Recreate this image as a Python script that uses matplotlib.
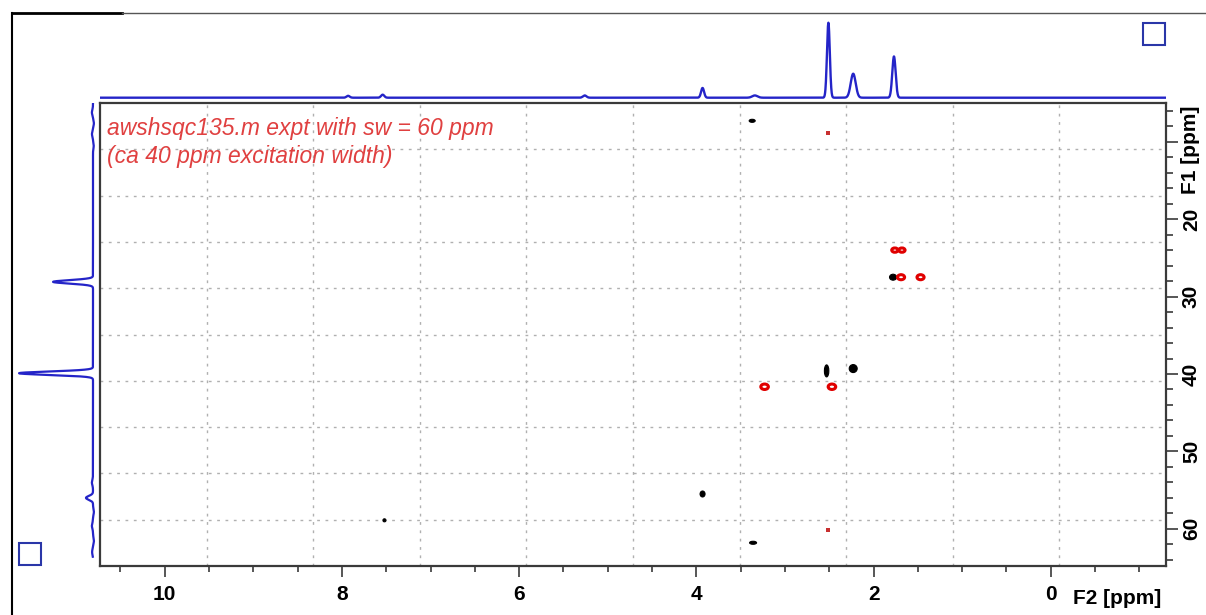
import numpy as np
import matplotlib
matplotlib.use("Agg")
import matplotlib.pyplot as plt
from matplotlib.patches import Ellipse, Rectangle
from matplotlib.lines import Line2D

plt.rcParams['font.family'] = ['Liberation Sans', 'DejaVu Sans']

# ---------------- data ----------------
f2_major_ticks = [10, 8, 6, 4, 2, 0]
f2_tick_labels = ["10", "8", "6", "4", "2", "0"]
f1_major_ticks = [10, 20, 30, 40, 50, 60]
f1_tick_labels = ["", "20", "30", "40", "50", "60"]

# 1H projection (top trace): peak ppm, relative height, gaussian sigma (ppm)
h_ppm = [7.93, 7.54, 5.26, 3.93, 3.34, 2.51, 2.23, 1.77]
h_int = [2.5, 4.0, 3.0, 13.0, 3.0, 100.0, 32.0, 55.0]
h_sig = [0.018, 0.018, 0.02, 0.017, 0.03, 0.016, 0.028, 0.019]

# 13C projection (left trace): peak ppm, relative height, sigma (ppm)
c_ppm = [6.2, 7.6, 9.0, 10.5, 28.1, 39.9, 54.0, 56.0, 57.8, 59.6, 61.5, 63.0]
c_int = [1.5, -1.2, 1.4, -1.0, 54.0, 100.0, 1.5, 9.5, -1.2, 1.5, -1.3, 1.2]
c_sig = [0.35, 0.35, 0.35, 0.35, 0.22, 0.22, 0.35, 0.25, 0.35, 0.35, 0.35, 0.35]

# positive cross peaks (black): F2 ppm, F1 ppm, F2 width, F1 width
pos_f2 = [3.37, 1.78, 2.53, 2.23, 3.93, 7.52, 3.36]
pos_f1 = [7.3, 27.5, 39.6, 39.3, 55.5, 58.9, 61.8]
pos_w2 = [0.068, 0.08, 0.05, 0.09, 0.056, 0.034, 0.079]
pos_w1 = [0.39, 0.77, 1.55, 1.03, 0.77, 0.39, 0.39]

# negative cross peaks (red rings): F2 ppm, F1 ppm, F2 width, F1 width
neg_f2 = [1.76, 1.68, 1.69, 1.47, 3.23, 2.47]
neg_f1 = [24.0, 24.0, 27.5, 27.5, 41.65, 41.65]
neg_w2 = [0.07, 0.07, 0.08, 0.08, 0.085, 0.085]
neg_w1 = [0.55, 0.55, 0.65, 0.65, 0.7, 0.7]

# weak negative peaks (small red dots)
weak_f2 = [2.51, 2.51]
weak_f1 = [8.9, 60.1]

caption = ["awshsqc135.m expt with sw = 60 ppm", "(ca 40 ppm excitation width)"]

# ---------------- layout helpers ----------------
W, H = 1206, 615
def fx(px):
    return px / W
def fy(py):
    return 1 - py / H

F2_LIM = (10.73, -1.30)
F1_LIM = (64.8, 5.0)

fig = plt.figure(figsize=(W / 100, H / 100), dpi=100)
fig.patch.set_facecolor("white")

# main 2D axes
ax = fig.add_axes([fx(100), fy(566), 1066 / W, 463 / H])
ax.set_xlim(*F2_LIM)
ax.set_ylim(*F1_LIM)

# grid: 10 equal divisions
for i in range(1, 10):
    ax.plot([i / 10, i / 10], [0, 1], transform=ax.transAxes, color="#b0b0b0",
            lw=1.0, ls=(0, (2, 4)), zorder=0)
    ax.plot([0, 1], [i / 10, i / 10], transform=ax.transAxes, color="#b0b0b0",
            lw=1.0, ls=(0, (2, 4)), zorder=0)

for x, y, w, h in zip(pos_f2, pos_f1, pos_w2, pos_w1):
    ax.add_patch(Ellipse((x, y), w, h, facecolor="black", edgecolor="black",
                         lw=0.8, zorder=3))
for x, y, w, h in zip(neg_f2, neg_f1, neg_w2, neg_w1):
    ax.add_patch(Ellipse((x, y), w, h, facecolor="none", edgecolor="#e00000",
                         lw=2.2, zorder=3))
ax.scatter(weak_f2, weak_f1, s=6, marker="s", color="#c83030", lw=0, zorder=3)

ax.text(0.0065, 1 - (135 - 103) / 463, caption[0], transform=ax.transAxes,
        color="#e04040", fontsize=16.5, style="italic", va="baseline", ha="left")
ax.text(0.0065, 1 - (163 - 103) / 463, caption[1], transform=ax.transAxes,
        color="#e04040", fontsize=16.5, style="italic", va="baseline", ha="left")

for s in ax.spines.values():
    s.set_color("#3a3a3a")
    s.set_linewidth(1.6)

ax.set_xticks(f2_major_ticks)
ax.set_xticklabels(f2_tick_labels, fontweight="bold", fontsize=15)
ax.set_xticks(np.arange(-1.0, 10.51, 0.5), minor=True)
ax.tick_params(axis="x", which="major", direction="out", length=8, width=1.2,
               color="#3a3a3a", pad=6)
ax.tick_params(axis="x", which="minor", direction="out", length=4.5, width=1.2,
               color="#3a3a3a")

ax.yaxis.tick_right()
ax.set_yticks(f1_major_ticks)
ax.set_yticklabels(f1_tick_labels, fontweight="bold", fontsize=15, rotation=90,
                   va="center")
ax.set_yticks(np.arange(6, 65, 2), minor=True)
ax.tick_params(axis="y", which="major", direction="out", length=8.5, width=1.2,
               color="#3a3a3a", pad=3)
ax.tick_params(axis="y", which="minor", direction="out", length=5, width=1.2,
               color="#3a3a3a")

fig.text(fx(1117), fy(598), "F2 [ppm]", fontweight="bold", fontsize=15,
         ha="center", va="center")
fig.text(fx(1191), fy(150), "F1 [ppm]", fontweight="bold", fontsize=15,
         ha="center", va="center", rotation=90)

# top 1H projection
axt = fig.add_axes([fx(100), fy(100), 1066 / W, 85 / H])
xs = np.linspace(F2_LIM[0], F2_LIM[1], 9000)
top = np.zeros_like(xs)
for p, a, s in zip(h_ppm, h_int, h_sig):
    top += a * np.exp(-0.5 * ((xs - p) / s) ** 2)
axt.plot(xs, top, color="#2424c8", lw=1.7)
axt.set_xlim(*F2_LIM)
axt.set_ylim(-3.07, 110.3)
axt.axis("off")

# left 13C projection
axl = fig.add_axes([fx(10), fy(566), 90 / W, 463 / H])
ys = np.linspace(5.0, 63.6, 6000)
left = np.zeros_like(ys)
for p, a, s in zip(c_ppm, c_int, c_sig):
    left += a * np.exp(-0.5 * ((ys - p) / s) ** 2)
axl.plot(left, ys, color="#2424c8", lw=1.6)
axl.set_xlim(112.2, -9.46)
axl.set_ylim(*F1_LIM)
axl.axis("off")

# window decorations
fig.add_artist(Line2D([fx(12), fx(12)], [fy(13), fy(615)], color="black", lw=1.5))
fig.add_artist(Line2D([fx(12), fx(122)], [fy(13), fy(13)], color="black", lw=2.0))
fig.add_artist(Line2D([fx(122), 1.0], [fy(13), fy(13)], color="#555555", lw=1.0))
fig.add_artist(Rectangle((fx(1143), fy(45)), 22 / W, 22 / H, fill=False,
                         edgecolor="#2a36a8", lw=1.5, transform=fig.transFigure))
fig.add_artist(Rectangle((fx(19), fy(565)), 22 / W, 22 / H, fill=False,
                         edgecolor="#2a36a8", lw=1.5, transform=fig.transFigure))

fig.savefig("out.png", dpi=100, facecolor="white")
